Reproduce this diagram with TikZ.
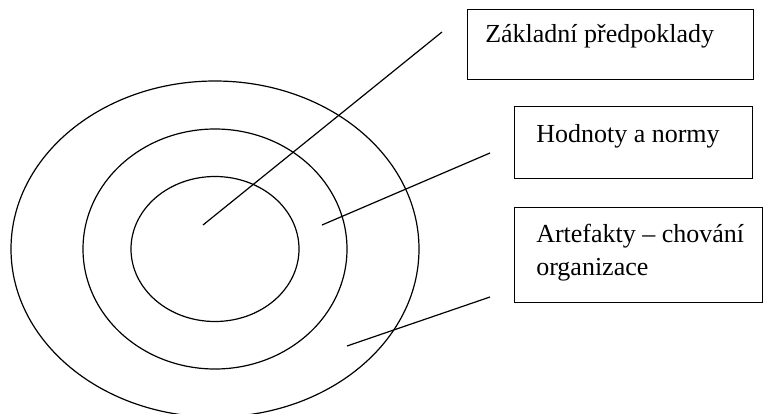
\documentclass[tikz,border=0pt]{standalone}
\usepackage{fontspec}
\setmainfont{Liberation Serif}
\begin{document}
\begin{tikzpicture}[x=0.75pt, y=-0.75pt,
  ring/.style={draw=black, line width=0.9pt},
  pointer/.style={draw=black, line width=0.9pt},
  box/.style={draw=black, line width=0.9pt, rectangle, inner sep=0pt, anchor=north west},
  lbl/.style={inner sep=0pt, anchor=base west, font=\fontsize{19.5}{23}\selectfont}]
\useasboundingbox (0,0) rectangle (764,414);
\fill[white] (0,0) rectangle (764,414);

% concentric culture levels
\coordinate (c) at (215,249);
\draw[ring] (c) ellipse [x radius=204, y radius=168];
\draw[ring] (c) ellipse [x radius=132, y radius=120];
\draw[ring] (c) ellipse [x radius=84, y radius=72.5];

% label boxes
\node[box, minimum width=214.5pt, minimum height=52.5pt] (b1) at (467,9) {};
\node[box, minimum width=178.5pt, minimum height=54pt] (b2) at (514,106) {};
\node[box, minimum width=186pt, minimum height=71pt] (b3) at (514,207) {};

\node[lbl] (t1) at (485,42) {Základní předpoklady};
\node[lbl] (t2) at (536,142) {Hodnoty a normy};
\node[lbl] (t3a) at (536,242) {Artefakty – chování};
\node[lbl] (t3b) at (536,275) {organizace};

% pointer lines from each level towards its box
\coordinate (p1a) at (203,225); \coordinate (p1b) at (442,32);
\coordinate (p2a) at (322,225); \coordinate (p2b) at (490,153);
\coordinate (p3a) at (347,346); \coordinate (p3b) at (490,297);
\draw[pointer] (p1a) -- (p1b);
\draw[pointer] (p2a) -- (p2b);
\draw[pointer] (p3a) -- (p3b);
\end{tikzpicture}
\end{document}
